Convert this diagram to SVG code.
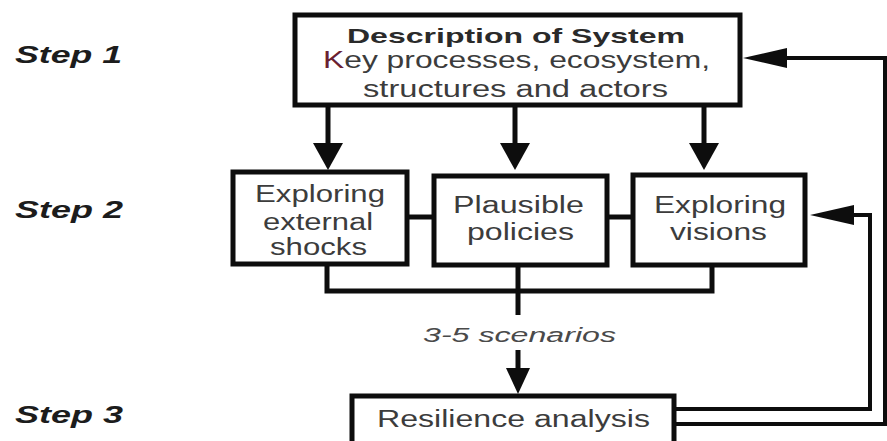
<svg xmlns="http://www.w3.org/2000/svg" width="887" height="441" viewBox="0 0 887 441">
  <style>
    .box { fill: #ffffff; stroke: #0d0d0d; stroke-width: 5; }
    .wire { fill: none; stroke: #0d0d0d; stroke-width: 5; }
    .loop { fill: none; stroke: #0d0d0d; stroke-width: 4; }
    .lbl { font-family: "Liberation Sans", Arial, sans-serif; fill: #3c3c3c; text-anchor: middle; }
    .title { font-weight: bold; font-size: 21px; fill: #2a2a2a; }
    .body { font-size: 23px; }
    .note { font-style: italic; font-size: 20px; fill: #4a4a4a; }
    .step { font-family: "Liberation Sans", Arial, sans-serif; font-weight: bold; font-style: italic; font-size: 24px; fill: #1c1c1c; }
  </style>
  <defs>
    <marker id="head-down" markerUnits="userSpaceOnUse" orient="auto" markerWidth="27" markerHeight="30" refX="0" refY="15" viewBox="0 0 27 30">
      <path d="M0,0 L27,15 L0,30 Z" fill="#0d0d0d"/>
    </marker>
    <marker id="head-small" markerUnits="userSpaceOnUse" orient="auto" markerWidth="26" markerHeight="24" refX="0" refY="12" viewBox="0 0 26 24">
      <path d="M0,0 L26,12 L0,24 Z" fill="#0d0d0d"/>
    </marker>
    <marker id="head-side" markerUnits="userSpaceOnUse" orient="auto" markerWidth="44" markerHeight="20" refX="0" refY="10" viewBox="0 0 44 20">
      <path d="M0,0 L44,10 L0,20 Z" fill="#0d0d0d"/>
    </marker>
  </defs>

  <rect width="887" height="441" fill="#ffffff"/>

  <!-- step labels -->
  <g id="steps">
    <text class="step" x="15" y="63" textLength="107" lengthAdjust="spacingAndGlyphs">Step 1</text>
    <text class="step" x="15" y="218" textLength="108" lengthAdjust="spacingAndGlyphs">Step 2</text>
    <text class="step" x="15" y="423" textLength="108" lengthAdjust="spacingAndGlyphs">Step 3</text>
  </g>

  <!-- connectors -->
  <g id="connectors">
    <line class="wire" x1="328" y1="105" x2="328" y2="143" marker-end="url(#head-down)"/>
    <line class="wire" x1="515" y1="105" x2="515" y2="143" marker-end="url(#head-down)"/>
    <line class="wire" x1="704" y1="105" x2="704" y2="143" marker-end="url(#head-down)"/>
    <line class="wire" x1="407" y1="217" x2="434" y2="217"/>
    <line class="wire" x1="607" y1="217" x2="633" y2="217"/>
    <path class="wire" d="M327,264 V291 H712 V264"/>
    <line class="wire" x1="518" y1="264" x2="518" y2="315"/>
    <line class="wire" x1="518" y1="350" x2="518" y2="368" marker-end="url(#head-small)"/>
    <text class="lbl note" x="519.5" y="342" textLength="193" lengthAdjust="spacingAndGlyphs">3-5 scenarios</text>
    <path class="loop" d="M674,409 H870 V215 H854" marker-end="url(#head-side)"/>
    <path class="loop" d="M674,424 H885 V58 H787" marker-end="url(#head-side)"/>
  </g>

  <!-- Step 1 -->
  <g id="system">
    <rect class="box" x="295" y="15" width="445" height="90"/>
    <text class="lbl title" x="516" y="43" textLength="338" lengthAdjust="spacingAndGlyphs">Description of System</text>
    <text class="lbl body" x="516.5" y="68" textLength="387" lengthAdjust="spacingAndGlyphs"><tspan fill="#6a2030">K</tspan>ey processes, ecosystem,</text>
    <text class="lbl body" x="515.5" y="97" textLength="305" lengthAdjust="spacingAndGlyphs">structures and actors</text>
  </g>

  <!-- Step 2 -->
  <g id="shocks">
    <rect class="box" x="233" y="172" width="174" height="92"/>
    <text class="lbl body" x="320" y="202" textLength="130" lengthAdjust="spacingAndGlyphs">Exploring</text>
    <text class="lbl body" x="318" y="230" textLength="110" lengthAdjust="spacingAndGlyphs">external</text>
    <text class="lbl body" x="318.5" y="255" textLength="97" lengthAdjust="spacingAndGlyphs">shocks</text>
  </g>
  <g id="policies">
    <rect class="box" x="434" y="176" width="173" height="89"/>
    <text class="lbl body" x="518.5" y="213" textLength="131" lengthAdjust="spacingAndGlyphs">Plausible</text>
    <text class="lbl body" x="520.5" y="240" textLength="107" lengthAdjust="spacingAndGlyphs">policies</text>
  </g>
  <g id="visions">
    <rect class="box" x="633" y="175" width="172" height="90"/>
    <text class="lbl body" x="720" y="213" textLength="132" lengthAdjust="spacingAndGlyphs">Exploring</text>
    <text class="lbl body" x="718.5" y="240" textLength="97" lengthAdjust="spacingAndGlyphs">visions</text>
  </g>

  <!-- Step 3 -->
  <g id="resilience">
    <rect class="box" x="352" y="396" width="322" height="60"/>
    <text class="lbl body" x="513.5" y="427" textLength="273" lengthAdjust="spacingAndGlyphs">Resilience analysis</text>
  </g>
</svg>
